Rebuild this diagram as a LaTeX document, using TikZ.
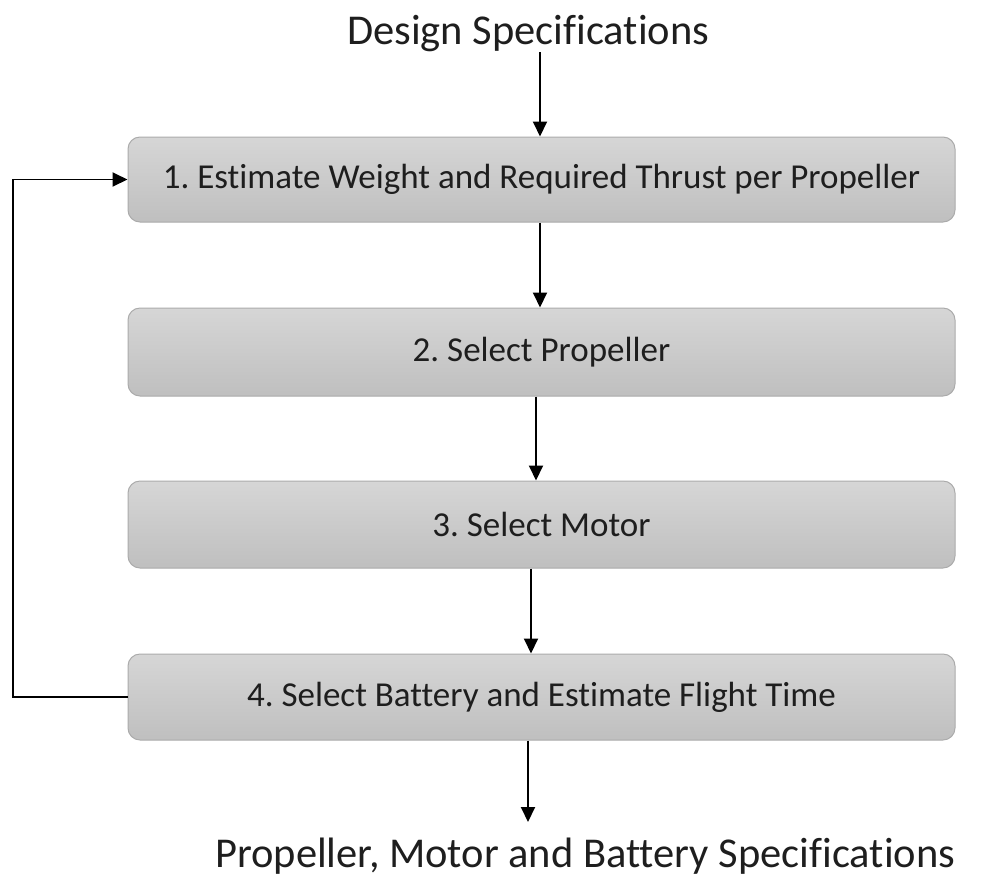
\documentclass[tikz,border=0pt]{standalone}
\usepackage{fontspec}
\setmainfont[Ligatures=NoCommon]{Carlito}
\usetikzlibrary{arrows.meta}
\frenchspacing
\definecolor{txt}{HTML}{1E1E1E}
\definecolor{boxtop}{HTML}{D6D6D6}
\definecolor{boxbot}{HTML}{BFBFBF}
\definecolor{boxline}{HTML}{ABABAB}
\tikzset{
  stepbox/.style={draw=boxline, line width=1pt, rounded corners=12pt,
    top color=boxtop, bottom color=boxbot,
    minimum width=827pt, inner sep=0pt, text=txt,
    font=\fontsize{35}{40}\selectfont},
  label/.style={text=txt, inner sep=0pt, anchor=base west,
    font=\fontsize{42.5}{48}\selectfont},
  flow/.style={line width=1.9pt, -{Triangle[width=14pt,length=15pt]}}
}
\begin{document}
\begin{tikzpicture}[x=1pt,y=-1pt]
\useasboundingbox (0,0) rectangle (987,879);
% input and output labels
\node[label] (spec) at (347,44) {Design Specifications};
\node[label] (out) at (215,867) {Propeller, Motor and Battery Specifications};
% process steps
\node[stepbox, minimum height=85pt] (b1) at (541.5,179.5) {1. Estimate Weight and Required Thrust per Propeller};
\node[stepbox, minimum height=88pt] (b2) at (541.5,352) {2. Select Propeller};
\node[stepbox, minimum height=87pt] (b3) at (541.5,524.5) {3. Select Motor};
\node[stepbox, minimum height=86pt] (b4) at (541.5,697) {4. Select Battery and Estimate Flight Time};
% ends of the in/out arrows and the feedback column
\coordinate (inA) at (540,52);
\coordinate (outA) at (528,822);
\coordinate (loop) at (13,0);

\draw[flow] (inA) -- (inA |- b1.north);
\draw[flow] ([xshift=-1.5pt]b1.south) -- ([xshift=-1.5pt]b2.north);
\draw[flow] ([xshift=-5.5pt]b2.south) -- ([xshift=-5.5pt]b3.north);
\draw[flow] ([xshift=-10.5pt]b3.south) -- ([xshift=-10.5pt]b4.north);
\draw[flow] (outA |- b4.south) -- (outA);
\draw[flow] (b4.west) -- (b4.west -| loop) -- (b1.west -| loop) -- (b1.west);
\end{tikzpicture}
\end{document}
